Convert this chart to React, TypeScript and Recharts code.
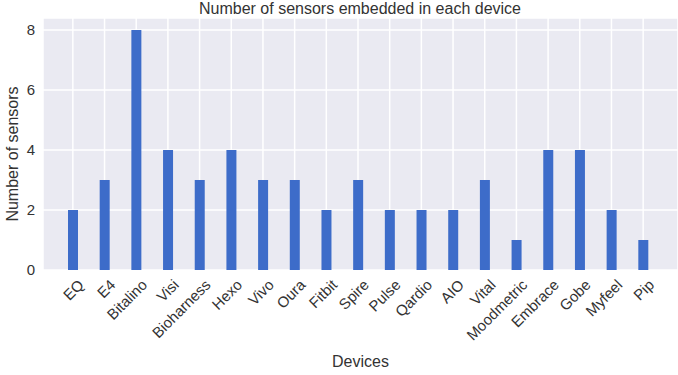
import { Bar, BarChart, CartesianGrid, XAxis, YAxis } from "recharts";

const devices = [
  "EQ", "E4", "Bitalino", "Visi", "Bioharness", "Hexo", "Vivo", "Oura", "Fitbit", "Spire",
  "Pulse", "Qardio", "AIO", "Vital", "Moodmetric", "Embrace", "Gobe", "Myfeel", "Pip",
];
const sensors = [2, 3, 8, 4, 3, 4, 3, 3, 2, 3, 2, 2, 2, 3, 1, 4, 4, 2, 1];
const yTicks = [0, 2, 4, 6, 8];

const data = devices.map((device, i) => ({ device, sensors: sensors[i] }));

const FONT = "'Liberation Sans', Arial, sans-serif";

function DeviceTick({ x, y, payload }: any) {
  return (
    <text
      x={x + 8}
      y={y + 4}
      transform={`rotate(-45, ${x + 8}, ${y + 4})`}
      textAnchor="end"
      dominantBaseline="central"
      fontSize={15}
      fill="#333"
      fontFamily={FONT}
    >
      {payload.value}
    </text>
  );
}

function YLabel({ viewBox }: any) {
  const cy = viewBox.y + viewBox.height / 2 + 10;
  return (
    <text
      x={12}
      y={cy}
      transform={`rotate(-90, 12, ${cy})`}
      textAnchor="middle"
      dominantBaseline="central"
      fontSize={16}
      fill="#333"
      fontFamily={FONT}
    >
      Number of sensors
    </text>
  );
}

export default function App() {
  return (
    <div style={{ position: "fixed", top: 0, left: 0, width: 678, height: 375, background: "#fff", fontFamily: FONT }}>
      <div style={{ position: "absolute", top: 0, left: 0, width: 720, textAlign: "center", fontSize: 16, color: "#333", lineHeight: "18px" }}>
        Number of sensors embedded in each device
      </div>
      <BarChart width={678} height={375} data={data} margin={{ top: 18, right: 0, bottom: 0, left: 0 }}>
        <CartesianGrid fill="#eaeaf2" stroke="#fff" strokeWidth={1.5} />
        <XAxis
          dataKey="device"
          interval={0}
          tickLine={false}
          axisLine={false}
          height={105}
          padding={{ left: 14, right: 19 }}
          tick={<DeviceTick />}
          label={{ value: "Devices", position: "insideBottom", offset: 8, fontSize: 16, fill: "#333", fontFamily: FONT }}
        />
        <YAxis
          domain={[0, 8.4]}
          ticks={yTicks}
          tickLine={false}
          axisLine={false}
          width={43}
          tick={{ fontSize: 15, fill: "#333", fontFamily: FONT }}
          label={<YLabel />}
        />
        <Bar dataKey="sensors" fill="#3d6cc9" barSize={10} isAnimationActive={false} />
      </BarChart>
    </div>
  );
}
